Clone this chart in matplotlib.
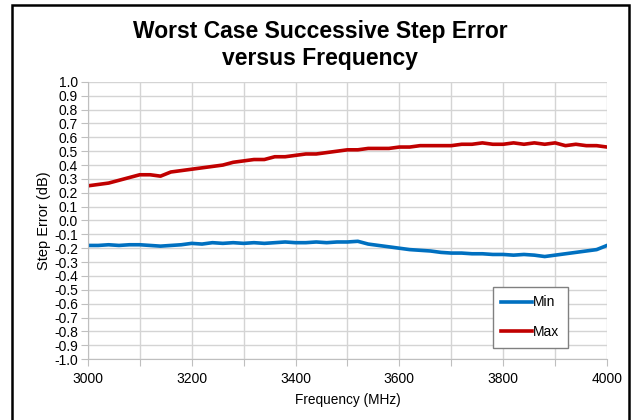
import numpy as np
import matplotlib
matplotlib.use('Agg')
import matplotlib.pyplot as plt
from matplotlib.patches import Rectangle

freq = np.arange(3000, 4001, 20)

max_err = [0.25, 0.26, 0.27, 0.29, 0.31, 0.33, 0.33, 0.32, 0.35, 0.36,
           0.37, 0.38, 0.39, 0.40, 0.42, 0.43, 0.44, 0.44, 0.46, 0.46,
           0.47, 0.48, 0.48, 0.49, 0.50, 0.51, 0.51, 0.52, 0.52, 0.52,
           0.53, 0.53, 0.54, 0.54, 0.54, 0.54, 0.55, 0.55, 0.56, 0.55,
           0.55, 0.56, 0.55, 0.56, 0.55, 0.56, 0.54, 0.55, 0.54, 0.54, 0.53]

min_err = [-0.18, -0.18, -0.175, -0.18, -0.175, -0.175, -0.18, -0.185, -0.18, -0.175,
           -0.165, -0.17, -0.16, -0.165, -0.16, -0.165, -0.16, -0.165, -0.16, -0.155,
           -0.16, -0.16, -0.155, -0.16, -0.155, -0.155, -0.15, -0.17, -0.18, -0.19,
           -0.20, -0.21, -0.215, -0.22, -0.23, -0.235, -0.235, -0.24, -0.24, -0.245,
           -0.245, -0.25, -0.245, -0.25, -0.26, -0.25, -0.24, -0.23, -0.22, -0.21, -0.18]

x_ticks = np.arange(3000, 4001, 100)
y_ticks = np.round(np.arange(-1.0, 1.01, 0.1), 1)


def main():
    plt.rcParams['font.family'] = ['Liberation Sans', 'DejaVu Sans']
    fig = plt.figure(figsize=(6.41, 4.20), dpi=100)
    ax = fig.add_axes([0.137, 0.145, 0.810, 0.660])

    ax.plot(freq, min_err, color='#0070C0', lw=2.6, label='Min')
    ax.plot(freq, max_err, color='#C00000', lw=2.6, label='Max')

    ax.set_xlim(3000, 4000)
    ax.set_ylim(-1.0, 1.0)
    ax.set_xticks(x_ticks)
    ax.set_xticklabels([str(t) if t % 200 == 0 else '' for t in x_ticks], fontsize=10)
    ax.set_yticks(y_ticks)
    ax.set_yticklabels(['%.1f' % (v + 0.0) if abs(v) > 1e-9 else '0.0' for v in y_ticks],
                       fontsize=10)
    ax.grid(True, color='#d4d4d4', lw=1.0)
    ax.set_axisbelow(True)
    for s in ['top', 'right']:
        ax.spines[s].set_visible(False)
    for s in ['left', 'bottom']:
        ax.spines[s].set_color('#bfbfbf')
    ax.tick_params(colors='#bfbfbf', labelcolor='black', length=5, pad=2)
    ax.tick_params(axis='x', pad=4)

    ax.set_xlabel('Frequency (MHz)', fontsize=9.8, labelpad=5)
    ax.set_ylabel('Step Error (dB)', fontsize=10.5, labelpad=2)

    fig.text(0.5, 0.925, 'Worst Case Successive Step Error', ha='center', va='center',
             fontsize=16.5, fontweight='bold')
    fig.text(0.5, 0.86, 'versus Frequency', ha='center', va='center',
             fontsize=16.5, fontweight='bold')

    leg = ax.legend(loc='upper left', bbox_to_anchor=(0.78, 0.26), fontsize=10,
                    frameon=True, fancybox=False, handlelength=2.2, labelspacing=1.15,
                    handletextpad=0.1, borderpad=0.6, borderaxespad=0, framealpha=1)
    leg.get_frame().set_edgecolor('#808080')
    leg.get_frame().set_linewidth(1.0)

    # outer frame of the picture
    fig.patches.append(Rectangle((12 / 641, -0.05), 617 / 641, 1 - 5 / 420 + 0.05,
                                 transform=fig.transFigure, fill=False,
                                 edgecolor='black', lw=1.8))

    fig.savefig('out.png', dpi=100)


if __name__ == '__main__':
    main()
